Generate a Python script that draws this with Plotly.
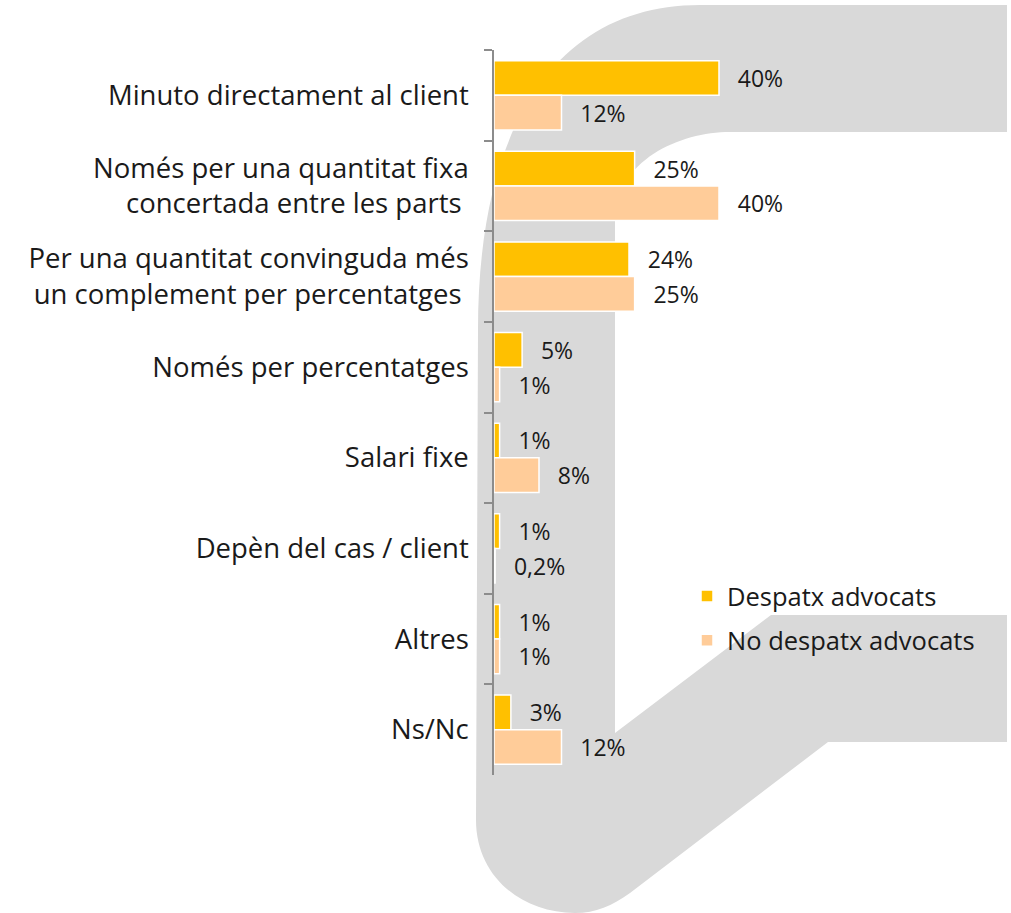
import plotly.graph_objects as go

# Categories (top to bottom) and the share of each answer per group
categories = [
    "Minuto directament al client",
    "Només per una quantitat fixa<br>concertada entre les parts\u00a0",
    "Per una quantitat convinguda més<br>un complement per percentatges\u00a0",
    "Només per percentatges",
    "Salari fixe",
    "Depèn del cas / client",
    "Altres",
    "Ns/Nc",
]
despatx = [40, 25, 24, 5, 1, 1, 1, 3]
no_despatx = [12, 40, 25, 1, 8, 0.2, 1, 12]
series_names = ["Despatx advocats", "No despatx advocats"]
series_colors = ["#FFC000", "#FFCC99"]

W, H = 1011, 913
M_L, M_R, M_T, M_B = 494, 17, 50, 138
PW, PH = W - M_L - M_R, H - M_T - M_B
FONT = "Open Sans"
INK = "#1a1a1a"


def fmt(v):
    s = f"{v:g}".replace(".", ",")
    return "\u00a0\u00a0\u2009" + s + "%"


def P(x, y):
    """pixel position on the page -> paper coordinates"""
    return f"{(x - M_L) / PW:.5f},{1 - (y - M_T) / PH:.5f}"


# decorative grey hook behind the chart
deco = (
    f"M {P(478, 330)} "
    f"C {P(478, 120)} {P(560, 5)} {P(700, 5)} "
    f"L {P(1007, 5)} L {P(1007, 132)} L {P(730, 132)} "
    f"C {P(680, 132)} {P(615, 160)} {P(615, 222)} "
    f"L {P(615, 733)} "
    f"L {P(771, 615)} L {P(1007, 615)} L {P(1007, 742)} L {P(828, 742)} "
    f"L {P(630, 893)} "
    f"C {P(612, 906)} {P(596, 913)} {P(575, 913)} "
    f"C {P(520, 913)} {P(476, 875)} {P(476, 820)} Z"
)

fig = go.Figure()
for name, vals, col in zip(series_names, [despatx, no_despatx], series_colors):
    fig.add_trace(go.Bar(
        y=categories, x=vals, orientation="h", name=name,
        legendgroup=name,
        marker=dict(color=col, line=dict(color="white", width=1.5)),
        text=[fmt(v) for v in vals], textposition="outside",
        textfont=dict(family=FONT, size=23, color=INK),
        constraintext="none", cliponaxis=False,
    ))

fig.update_layout(
    width=W, height=H,
    margin=dict(l=M_L, r=M_R, t=M_T, b=M_B, autoexpand=False),
    paper_bgcolor="white", plot_bgcolor="rgba(0,0,0,0)",
    barmode="group", bargap=0.235, bargroupgap=0,
    font=dict(family=FONT, color=INK),
    showlegend=True,
    legend=dict(
        x=(687 - M_L) / PW, y=1 - (573 - M_T) / PH,
        xanchor="left", yanchor="top",
        font=dict(family=FONT, size=25.5, color=INK),
        bgcolor="rgba(0,0,0,0)", traceorder="grouped",
        tracegroupgap=8,
    ),
    shapes=[dict(type="path", path=deco, xref="paper", yref="paper",
                 fillcolor="#D9D9D9", line=dict(width=0), layer="below")],
    xaxis=dict(range=[0, PW / 5.625], visible=False, fixedrange=True),
    yaxis=dict(
        autorange="reversed", type="category",
        showline=True, linecolor="#8c8c8c", linewidth=1.5,
        ticks="outside", tickson="boundaries", ticklen=8,
        tickcolor="#8c8c8c", tickwidth=1.5,
        tickfont=dict(family=FONT, size=27.5, color=INK),
        ticklabelstandoff=18, automargin=False,
        showgrid=False, zeroline=False,
    ),
)

fig.write_html("out.html")
